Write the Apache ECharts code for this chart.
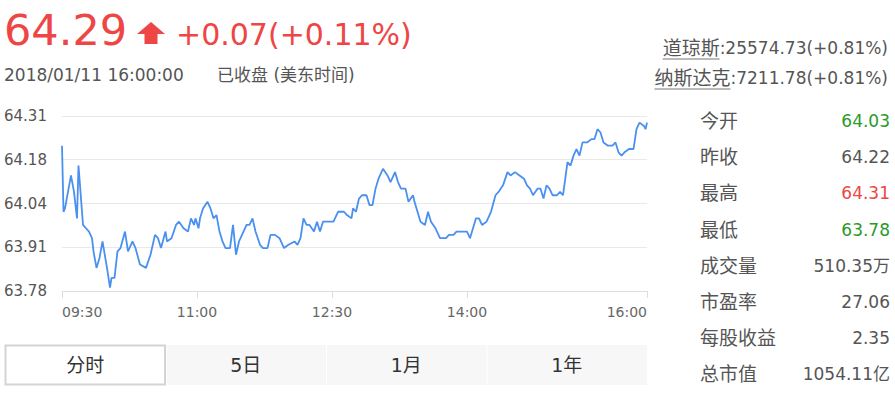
<!DOCTYPE html>
<html>
<head>
<meta charset="utf-8">
<script src="https://cdn.jsdelivr.net/npm/echarts@6/dist/echarts.min.js"></script>
<style>
html,body{margin:0;padding:0;background:#fff;}
#c{width:895px;height:396px;}
</style>
</head>
<body>
<div id="c"></div>
<script>
// ---------- data ----------
const times = ['09:30','09:31','09:32','09:36','09:38','09:40','09:41','09:43','09:44','09:46','09:48','09:50','09:51','09:53','09:55','09:57','10:00','10:02','10:03','10:05','10:07','10:09','10:12','10:14','10:17','10:19','10:22','10:26','10:29','10:32','10:34','10:36','10:39','10:40','10:43','10:46','10:48','10:51','10:54','10:56','10:58','10:59','11:01','11:02','11:04','11:07','11:09','11:11','11:13','11:15','11:17','11:19','11:22','11:24','11:26','11:28','11:31','11:33','11:35','11:37','11:39','11:42','11:44','11:47','11:49','11:52','11:55','11:58','12:01','12:05','12:07','12:09','12:11','12:13','12:15','12:18','12:20','12:22','12:24','12:27','12:31','12:34','12:38','12:40','12:43','12:44','12:46','12:48','12:50','12:53','12:55','12:57','12:59','13:01','13:04','13:07','13:09','13:12','13:14','13:16','13:19','13:21','13:24','13:25','13:27','13:29','13:32','13:34','13:36','13:39','13:42','13:44','13:46','13:48','13:51','13:53','13:57','14:00','14:02','14:04','14:06','14:08','14:10','14:13','14:16','14:19','14:21','14:24','14:27','14:29','14:32','14:35','14:38','14:40','14:42','14:44','14:47','14:49','14:51','14:53','14:55','14:57','15:00','15:02','15:04','15:07','15:09','15:11','15:13','15:15','15:17','15:20','15:23','15:25','15:27','15:29','15:31','15:34','15:37','15:39','15:41','15:43','15:45','15:48','15:51','15:53','15:55','15:58','15:59','16:00'];
const prices = [64.22,64.02,64.03,64.13,64.08,64.00,64.16,64.04,63.98,63.97,63.96,63.94,63.90,63.85,63.88,63.93,63.85,63.79,63.82,63.82,63.90,63.91,63.96,63.90,63.93,63.91,63.86,63.85,63.89,63.95,63.94,63.91,63.96,63.93,63.94,63.98,63.99,63.97,63.96,64.00,63.98,64.00,63.97,64.00,64.03,64.05,64.03,64.00,64.01,63.96,63.93,63.91,63.91,63.98,63.89,63.93,63.96,63.98,63.98,64.00,63.96,63.92,63.91,63.91,63.95,63.95,63.94,63.91,63.92,63.93,63.92,63.94,64.00,63.98,63.98,63.96,63.99,63.96,63.99,63.99,63.99,64.02,64.02,64.01,64.00,64.03,64.02,64.06,64.07,64.07,64.04,64.04,64.09,64.12,64.15,64.13,64.11,64.14,64.11,64.09,64.09,64.05,64.07,64.05,64.02,63.99,63.98,64.02,63.99,63.97,63.94,63.94,63.94,63.95,63.95,63.96,63.96,63.96,63.94,63.97,64.00,64.00,63.98,63.99,64.02,64.07,64.08,64.10,64.14,64.13,64.14,64.13,64.12,64.10,64.09,64.07,64.09,64.09,64.06,64.10,64.09,64.07,64.07,64.08,64.07,64.17,64.16,64.19,64.21,64.19,64.23,64.23,64.24,64.24,64.27,64.26,64.23,64.22,64.22,64.23,64.20,64.19,64.20,64.21,64.21,64.27,64.29,64.28,64.27,64.29];
const xTickTimes = ['09:30','11:00','12:30','14:00','16:00'];
const yTickLabels = ['63.78','63.91','64.04','64.18','64.31'];

const lastPrice = '64.29';
const change = '+0.07(+0.11%)';
const dateTime = '2018/01/11 16:00:00';
const status = '已收盘 (美东时间)';
const indexNames = ['道琼斯','纳斯达克'];
const indexValues = [':25574.73(+0.81%)',':7211.78(+0.81%)'];
const statLabels = ['今开','昨收','最高','最低','成交量','市盈率','每股收益','总市值'];
const statValues = ['64.03','64.22','64.31','63.78','510.35万','27.06','2.35','1054.11亿'];
const tabs = ['分时','5日','1月','1年'];

// ---------- helpers ----------
const FONT = 'DejaVu Sans, "Noto Sans CJK SC", sans-serif';
const RED = '#ee4545', GREEN = '#2a9a2a', TXT = '#555555';
function toMin(t){ const p = t.split(':').map(Number); return p[0]*60 + p[1] - 570; }
const cv = document.createElement('canvas').getContext('2d');
function measure(text, size){ cv.font = size + 'px ' + FONT; return cv.measureText(text).width; }

const yMin = parseFloat(yTickLabels[0]);
const yMax = parseFloat(yTickLabels[yTickLabels.length-1]);
const yInt = (yMax - yMin) / (yTickLabels.length - 1);
const xTicks = xTickTimes.map(toMin);
const prevClose = parseFloat(statValues[1]);

const graphics = [];
function txt(text, x, y, size, fill, align){
  graphics.push({type:'text', silent:true, style:{text:text, x:x, y:y, fontSize:size, fontFamily:FONT, fill:fill, textAlign:align||'left', textVerticalAlign:'middle'}});
}
// header
txt(lastPrice, 4, 30, 43, RED);
graphics.push({type:'polygon', silent:true, shape:{points:[[151,22],[165,34],[157.5,34],[157.5,44],[144.5,44],[144.5,34],[137,34]]}, style:{fill:RED}});
txt(change, 176, 34, 30, RED);
txt(dateTime, 4, 75, 17, TXT);
txt(status, 217, 75, 17, TXT);
// indices (right top)
indexNames.forEach(function(n,i){
  const y = 48 + i*30, right = 888;
  const vw = measure(indexValues[i], 17);
  const nw = measure(n, 19);
  txt(indexValues[i], right, y, 17, TXT, 'right');
  txt(n, right - vw, y, 19, TXT, 'right');
  graphics.push({type:'line', silent:true, shape:{x1:right-vw-nw, y1:y+11, x2:right-vw, y2:y+11}, style:{stroke:'#777', lineWidth:1}});
});
// stats
statLabels.forEach(function(l,i){
  const y = 121 + i*36.2;
  txt(l, 700, y, 19, TXT, 'left');
  let col = TXT;
  if (i === 0 || i === 2 || i === 3) {
    const v = parseFloat(statValues[i]);
    col = v > prevClose ? RED : (v < prevClose ? GREEN : TXT);
  }
  txt(statValues[i], 890, y, 17, col, 'right');
});
// tabs
const tabL = 5, tabR = 647, tabT = 345, tabB = 385;
const tw = (tabR - tabL) / tabs.length;
tabs.forEach(function(t,i){
  const x0 = tabL + i*tw;
  if (i === 0) {
    graphics.push({type:'rect', silent:true, shape:{x:x0+0.5, y:tabT+0.5, width:tw-1, height:tabB-tabT-1}, style:{fill:'#ffffff', stroke:'#d4d4d4', lineWidth:2}});
  } else {
    graphics.push({type:'rect', silent:true, shape:{x:x0+1, y:tabT, width:tw-1, height:tabB-tabT}, style:{fill:'#f7f7f7', stroke:'none'}});
  }
  txt(t, x0 + tw/2, (tabT+tabB)/2, 19, '#333333', 'center');
});

// ---------- chart ----------
const chart = echarts.init(document.getElementById('c'), null, {renderer:'svg', width:895, height:396});
chart.setOption({
  animation:false,
  backgroundColor:'#ffffff',
  grid:{left:62, right:248, top:116, bottom:105, containLabel:false},
  xAxis:{
    type:'value', min:0, max:toMin(xTickTimes[xTickTimes.length-1]),
    axisLine:{show:true, lineStyle:{color:'#dddddd', width:1}},
    axisTick:{show:true, customValues:xTicks, length:7, lineStyle:{color:'#dddddd'}},
    axisLabel:{customValues:xTicks, margin:14, fontSize:14, fontFamily:FONT, color:'#666666',
      alignMinLabel:'left', alignMaxLabel:'right',
      formatter:function(v){ const k = xTicks.indexOf(Math.round(v)); return k >= 0 ? xTickTimes[k] : ''; }},
    splitLine:{show:false}
  },
  yAxis:{
    type:'value', min:yMin, max:yMax, interval:yInt, scale:true,
    axisLine:{show:false}, axisTick:{show:false},
    axisLabel:{align:'left', margin:58, fontSize:15, fontFamily:FONT, color:TXT,
      formatter:function(v){ return yTickLabels[Math.round((v - yMin)/yInt)] || ''; }},
    splitLine:{show:true, lineStyle:{color:'#e9e9e9', width:1}}
  },
  series:[{
    type:'line', showSymbol:false, symbol:'none', smooth:false,
    lineStyle:{color:'#4a90f0', width:1.8},
    data: times.map(function(t,i){ return [toMin(t), prices[i]]; })
  }],
  graphic: graphics
});
</script>
</body>
</html>
